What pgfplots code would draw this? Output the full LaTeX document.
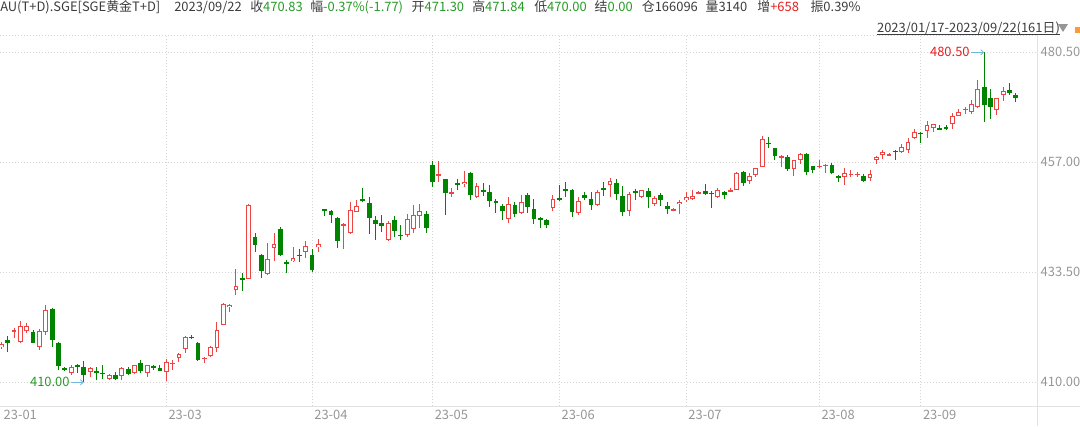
\documentclass[border=0pt]{standalone}
\usepackage{pgfplots}
\usepackage{pgfplotstable}
\pgfplotsset{compat=1.18}
\usetikzlibrary{arrows.meta}
\usepackage{fontspec}
\setmainfont{Noto Sans CJK SC}
\newcommand\fs{\fontsize{9.7pt}{11pt}\selectfont}

\definecolor{upc}{RGB}{238,68,68}
\definecolor{dnc}{RGB}{0,132,0}
\definecolor{txtc}{RGB}{60,60,60}
\definecolor{valg}{RGB}{38,155,38}
\definecolor{valr}{RGB}{228,30,30}
\definecolor{axc}{RGB}{150,150,150}
\definecolor{gridc}{RGB}{212,212,212}
\definecolor{framec}{RGB}{226,226,226}
\definecolor{arrc}{RGB}{110,185,220}

% daily candles, i = trading day since 2023/01/17 (o h l c)
\pgfplotstableread{
i o h l c
0 417.5 418.7 417.2 418.1
2 420.9 421.6 419.5 421.1
3 418.7 423.2 418.3 422.1
4 421.0 422.6 420.5 422.1
6 417.6 421.5 416.8 421.0
7 420.8 426.5 420.1 425.5
11 411.9 413.7 411.6 413.2
14 412.3 413.2 411.2 413.0
17 410.8 411.7 410.4 411.5
19 411.4 413.2 410.6 413.0
21 411.9 413.8 411.7 413.6
23 412.0 413.8 411.2 413.6
26 412.3 414.9 410.3 414.4
27 413.9 414.8 412.6 414.2
28 415.1 416.3 414.4 416.0
29 417.1 419.9 416.3 419.6
32 414.9 415.5 414.2 415.3
33 415.6 417.8 415.5 417.5
34 417.3 422.9 416.5 421.2
35 422.3 426.9 422.3 426.8
36 426.0 426.7 425.0 426.5
37 429.7 434.3 428.6 430.5
39 432.1 448.1 432.0 447.8
42 433.1 439.8 433.0 436.3
43 438.6 442.0 435.9 439.5
46 435.9 438.9 435.7 436.5
48 437.8 440.2 436.5 439.2
50 438.9 440.6 437.9 439.5
54 443.5 444.0 438.4 443.9
55 441.8 448.6 441.6 446.9
56 446.4 448.9 446.3 447.7
61 440.4 444.4 440.2 444.0
64 441.4 445.9 441.1 444.9
65 442.7 447.8 441.9 445.8
66 445.5 448.1 442.9 446.6
69 454.1 457.3 452.7 454.5
71 450.4 451.6 449.7 450.7
73 452.3 455.2 451.8 452.8
75 449.5 452.5 449.3 451.9
80 445.0 449.5 444.1 448.1
82 446.1 450.0 446.0 448.6
87 447.2 450.1 446.5 449.2
91 446.1 449.6 445.7 448.7
94 447.9 451.1 447.6 450.7
96 452.1 453.6 449.5 453.0
99 446.7 450.7 445.6 450.2
101 449.5 451.2 449.3 451.1
103 448.2 449.8 447.7 449.3
106 446.8 447.2 446.6 447.0
107 448.0 449.0 445.9 448.5
108 448.9 450.7 448.6 449.5
109 449.1 451.2 449.0 449.9
110 450.4 450.9 450.2 450.6
113 449.7 451.6 449.4 451.2
115 450.8 451.5 450.6 451.0
116 451.1 455.0 451.0 454.8
118 453.1 454.7 452.4 454.1
119 454.3 455.9 453.9 455.9
120 456.1 462.6 456.0 462.0
123 458.0 458.5 456.1 458.4
125 455.5 457.6 454.1 457.4
126 457.6 459.1 456.6 458.7
129 456.1 457.6 455.9 456.3
130 456.2 456.6 454.7 456.5
133 453.8 455.9 452.1 454.7
134 454.4 455.4 453.8 454.6
135 454.4 455.0 453.9 454.6
137 453.6 455.4 453.1 454.6
138 457.6 458.4 456.6 458.1
139 458.6 459.6 457.7 459.2
140 458.5 458.9 458.3 458.7
142 459.2 461.0 458.9 460.2
143 459.6 462.3 459.0 461.3
144 462.3 464.1 461.9 463.5
146 463.8 465.9 462.2 465.0
147 464.3 465.3 463.4 465.1
150 465.3 467.5 464.2 467.0
151 467.0 468.3 466.9 467.8
152 468.2 468.9 467.4 468.4
153 467.8 470.4 467.4 469.5
154 468.9 474.5 468.6 472.6
157 468.1 470.8 467.1 470.7
158 471.4 473.2 470.2 472.3
}\upday

\pgfplotstableread{
i o h l c
1 419.0 419.8 416.5 418.3
5 420.7 421.2 418.3 418.5
8 425.7 425.9 417.6 419.0
9 418.5 418.7 412.6 413.5
10 413.0 413.2 412.5 412.8
12 413.6 413.9 412.0 413.4
13 413.3 414.5 410.0 411.6
15 412.5 413.2 410.6 412.1
16 412.0 413.7 410.8 411.8
18 411.5 412.3 410.6 410.8
20 412.9 413.3 411.6 411.8
22 414.1 414.8 411.9 412.5
24 413.5 413.7 412.6 413.1
25 413.0 413.8 412.4 412.5
30 419.7 420.1 419.2 419.5
31 418.5 418.7 414.6 414.8
38 432.3 433.4 429.6 432.0
40 441.1 442.0 437.9 439.3
41 437.3 437.5 432.3 433.8
44 442.7 443.1 437.0 437.2
45 435.8 436.1 433.4 435.3
47 437.3 438.5 435.8 437.1
49 437.2 438.5 433.6 434.0
51 447.0 447.1 445.5 446.5
52 446.6 446.8 444.1 445.8
53 445.2 445.4 438.8 440.2
57 449.1 451.6 448.6 448.7
58 448.4 449.7 441.6 445.2
59 444.7 445.5 440.4 443.8
60 444.0 445.7 442.2 443.5
62 444.7 445.6 441.1 442.3
63 441.5 443.7 440.4 441.3
67 445.9 446.6 441.8 442.9
68 456.4 457.3 451.8 452.7
70 453.4 453.5 445.7 450.4
72 452.5 453.4 451.1 452.3
74 454.8 455.0 448.9 450.0
76 451.0 452.5 449.9 450.8
77 450.6 452.2 447.4 448.7
78 448.7 449.1 446.1 448.3
79 447.7 448.1 444.7 446.5
81 447.8 448.6 445.4 446.0
83 450.0 450.4 446.1 447.5
84 447.0 449.1 443.8 444.8
85 445.0 445.3 442.9 444.8
86 444.7 445.0 442.9 443.6
88 449.3 452.2 448.7 449.1
89 451.3 452.8 449.5 450.8
90 451.1 451.3 445.4 446.3
92 450.0 450.7 449.0 449.3
93 449.1 450.7 446.8 447.9
95 451.5 452.7 449.8 451.3
97 452.5 453.4 449.0 450.2
98 449.8 451.9 445.6 446.3
100 450.8 451.4 449.0 450.6
102 450.9 451.6 447.2 449.7
104 450.0 450.4 447.7 449.0
105 447.7 448.6 445.9 447.1
111 450.9 452.3 450.0 450.2
112 450.5 450.9 447.2 450.3
114 450.7 450.9 449.1 450.0
117 455.0 455.2 452.0 452.5
121 461.2 462.5 460.0 460.9
122 460.0 460.1 457.6 458.4
124 458.2 458.6 455.2 455.6
127 458.7 458.9 454.2 455.0
128 456.2 456.3 454.7 455.3
131 456.5 456.9 454.5 454.7
132 454.1 454.3 452.7 453.6
136 454.1 454.6 452.7 453.1
141 459.5 459.6 457.6 459.3
145 463.3 463.4 461.2 463.1
148 464.3 465.0 463.9 464.1
149 464.5 465.0 463.9 464.2
155 473.0 480.5 465.7 469.3
156 470.7 472.6 466.2 468.9
159 472.4 473.9 471.4 471.8
160 471.30 471.84 470.00 470.83
}\downday

\pgfplotsset{
  candle/.style 2 args={draw=none, mark=none, forget plot,
    error bars/.cd, y dir=both, y explicit, error mark=none,
    error bar style={draw=#1, line width=#2}},
}

\begin{document}
\begin{tikzpicture}
\useasboundingbox (0pt,-15pt) rectangle (810pt,304.5pt);
\begin{axis}[
  at={(0pt,0pt)}, anchor=south west,
  scale only axis, width=777.75pt, height=278.25pt,
  xmin=-0.22, xmax=163.34, ymin=404.94, ymax=484.21,
  axis line style={draw=none},
  tick style={draw=none},
  xtick={26,49,68,88,108,129,145},
  xticklabels={23-03,23-04,23-05,23-06,23-07,23-08,23-09},
  extra x ticks={0}, extra x tick labels={23-01},
  extra x tick style={grid=none},
  ytick={410,433.5,457,480.5},
  yticklabels={410.00,433.50,457.00,480.50},
  yticklabel pos=right,
  grid=major,
  major grid style={draw=gridc, line width=0.6pt, dash pattern=on 0.75pt off 1.5pt},
  /pgf/number format/assume math mode=true,
  xticklabel style={anchor=west, inner sep=0pt, xshift=1.5pt, yshift=-6.9pt, font=\fs, text=axc},
  yticklabel style={anchor=west, inner sep=0pt, xshift=2.6pt, font=\fs, text=axc},
]
% wicks
\addplot[candle={upc}{0.75pt}] table[x=i, y expr={(\thisrow{h}+\thisrow{l})/2}, y error expr={(\thisrow{h}-\thisrow{l})/2}] {\upday};
\addplot[candle={dnc}{0.75pt}] table[x=i, y expr={(\thisrow{h}+\thisrow{l})/2}, y error expr={(\thisrow{h}-\thisrow{l})/2}] {\downday};
% bodies
\addplot[candle={upc}{3.6pt}] table[x=i, y expr={(\thisrow{o}+\thisrow{c})/2}, y error expr={max(abs(\thisrow{c}-\thisrow{o}),0.22)/2}] {\upday};
\addplot[candle={white}{2.1pt}] table[x=i, y expr={(\thisrow{o}+\thisrow{c})/2}, y error expr={max(abs(\thisrow{c}-\thisrow{o})/2-0.214,0)}] {\upday};
\addplot[candle={dnc}{3.6pt}] table[x=i, y expr={(\thisrow{o}+\thisrow{c})/2}, y error expr={max(abs(\thisrow{c}-\thisrow{o}),0.22)/2}] {\downday};

% high / low markers
\node[anchor=east, inner sep=0pt, font=\fs, text=valr] at (axis cs:152.75,480.5) {480.50};
\draw[arrc, line width=0.6pt, -{Straight Barb[length=2.2pt, width=4pt]}] (axis cs:152.95,480.5) -- (axis cs:155,480.5);
\node[anchor=east, inner sep=0pt, font=\fs, text=valg] at (axis cs:10.8,410) {410.00};
\draw[arrc, line width=0.6pt, -{Straight Barb[length=2.2pt, width=4pt]}] (axis cs:11,410) -- (axis cs:13,410);
\end{axis}

% frame
\draw[framec, line width=0.75pt] (0pt,0pt) -- (810pt,0pt);
\draw[framec, line width=0.75pt] (777.75pt,-15pt) -- (777.75pt,278.25pt);
\draw[gridc, line width=0.6pt, dash pattern=on 0.75pt off 1.5pt] (0pt,278.25pt) -- (777.75pt,278.25pt);

% header line
\begin{scope}[every node/.style={inner sep=0pt, anchor=base west, font=\fs, text=txtc}]
\node at (0pt,295.5pt) {AU(T+D).SGE[SGE黄金T+D]};
\node at (130.5pt,295.5pt) {2023/09/22};
\node at (187.5pt,295.5pt) {收\textcolor{valg}{470.83}};
\node at (232.5pt,295.5pt) {幅\textcolor{valg}{-0.37\%(-1.77)}};
\node at (308.6pt,295.5pt) {开\textcolor{valg}{471.30}};
\node at (354pt,295.5pt) {高\textcolor{valg}{471.84}};
\node at (400.5pt,295.5pt) {低\textcolor{valg}{470.00}};
\node at (445.8pt,295.5pt) {结\textcolor{valg}{0.00}};
\node at (481.2pt,295.5pt) {仓166096};
\node at (529pt,295.5pt) {量3140};
\node at (567.8pt,295.5pt) {增\textcolor{valr}{+658}};
\node at (607.7pt,295.5pt) {振0.39\%};
\node (rng) at (657.6pt,280pt) {2023/01/17-2023/09/22(161日)};
\end{scope}
\draw[txtc, line width=0.6pt] ([yshift=-1.4pt]rng.base west) -- ([yshift=-1.4pt]rng.base east);
\fill[axc] (793.5pt,286.5pt) -- (801pt,286.5pt) -- (797.25pt,280.5pt) -- cycle;
\fill[orange!80] (806.3pt,279.5pt) rectangle (810pt,284pt);
\end{tikzpicture}
\end{document}
